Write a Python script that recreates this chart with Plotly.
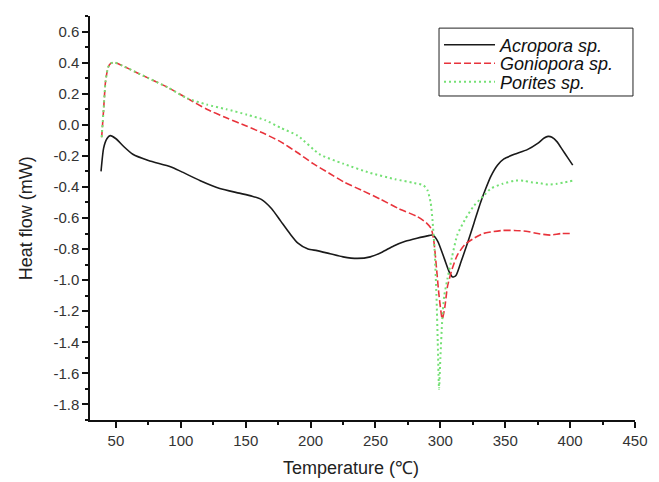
import plotly.graph_objects as go

# ---- data ----
acro_x = [38.5, 40.5, 43, 45.5, 50, 56, 63, 75, 92, 100, 115, 130, 145, 155, 162, 170, 177, 184, 190, 198,
          205, 215, 225, 236, 246, 255, 264, 273, 282, 290, 294, 298, 303, 307, 309.5, 312, 316, 321, 326,
          331, 335, 339, 344, 349, 357, 367, 375, 380, 383, 386, 390, 394, 398, 402]
acro_y = [-0.30, -0.15, -0.09, -0.07, -0.09, -0.14, -0.19, -0.23, -0.27, -0.30, -0.36, -0.41, -0.44, -0.46,
          -0.48, -0.54, -0.62, -0.70, -0.76, -0.80, -0.81, -0.83, -0.85, -0.86, -0.85, -0.82, -0.78, -0.75,
          -0.73, -0.715, -0.71, -0.75, -0.86, -0.95, -0.98, -0.97, -0.88, -0.76, -0.63, -0.50, -0.41, -0.33,
          -0.26, -0.22, -0.19, -0.16, -0.12, -0.085, -0.075, -0.08, -0.11, -0.16, -0.21, -0.26]

gonio_x = [39, 40.5, 42, 44, 46, 49, 55, 65, 75, 90, 105, 120, 135, 151, 165, 177, 190, 202, 214, 226, 239,
           254, 268, 282, 289, 293, 295, 297, 299, 301.5, 303.5, 305.5, 309, 313, 319, 326, 333, 339, 348,
           357, 366, 375, 385, 393, 402]
gonio_y = [-0.08, 0.10, 0.28, 0.37, 0.395, 0.40, 0.38, 0.34, 0.30, 0.24, 0.17, 0.10, 0.045, -0.01, -0.06,
           -0.11, -0.18, -0.25, -0.31, -0.37, -0.42, -0.48, -0.54, -0.59, -0.63, -0.67, -0.75, -0.92, -1.10,
           -1.25, -1.17, -1.04, -0.93, -0.84, -0.77, -0.73, -0.70, -0.69, -0.68, -0.68, -0.685, -0.70, -0.71,
           -0.70, -0.70]

por_x = [39, 40.5, 42, 44, 46, 49, 55, 65, 75, 90, 105, 120, 135, 151, 165, 177, 190, 207, 225, 246, 265,
         280, 287, 290, 292.5, 294, 295.5, 297, 298, 299, 300, 301.5, 303, 305.5, 309, 313, 319, 326, 333,
         339, 348, 357, 364, 370, 376, 383, 390, 396, 402]
por_y = [-0.08, 0.10, 0.28, 0.37, 0.395, 0.40, 0.38, 0.34, 0.30, 0.24, 0.17, 0.13, 0.10, 0.065, 0.03,
         -0.02, -0.07, -0.19, -0.25, -0.31, -0.35, -0.375, -0.39, -0.42, -0.50, -0.62, -0.80, -1.10, -1.40,
         -1.70, -1.50, -1.25, -1.10, -0.99, -0.85, -0.71, -0.61, -0.52, -0.46, -0.41, -0.38, -0.36, -0.36,
         -0.37, -0.375, -0.385, -0.38, -0.37, -0.36]

series_names = ["Acropora sp.", "Goniopora sp.", "Porites sp."]

x_ticks = [50, 100, 150, 200, 250, 300, 350, 400, 450]
y_ticks = [0.6, 0.4, 0.2, 0.0, -0.2, -0.4, -0.6, -0.8, -1.0, -1.2, -1.4, -1.6, -1.8]
y_ticktext = ["%.1f" % v for v in y_ticks]

x_title = "Temperature (℃)"
y_title = "Heat flow (mW)"

FONT = "Liberation Sans, Arial, sans-serif"

fig = go.Figure()
fig.add_trace(go.Scatter(x=acro_x, y=acro_y, mode="lines", name=series_names[0], legend="legend",
                         line=dict(color="#1a1a1a", width=1.6, shape="spline", smoothing=0.6)))
fig.add_trace(go.Scatter(x=gonio_x, y=gonio_y, mode="lines", name=series_names[1], legend="legend2",
                         line=dict(color="#e8333b", width=1.6, dash="7px,3px", shape="spline", smoothing=0.6)))
fig.add_trace(go.Scatter(x=por_x, y=por_y, mode="lines", name=series_names[2], legend="legend3",
                         line=dict(color="#74e074", width=2, dash="2px,3px", shape="spline", smoothing=0.6)))

axis_common = dict(showgrid=False, zeroline=False, showline=True, linecolor="#111", linewidth=1.5,
                   ticks="outside", ticklen=6, tickwidth=1.5, tickcolor="#111", automargin=False,
                   tickfont=dict(family=FONT, size=15, color="#333"), mirror=False)

fig.update_xaxes(range=[30, 450], tickvals=x_ticks,
                 minor=dict(ticks="outside", ticklen=3.5, tickwidth=1.5, tickcolor="#111", dtick=25, tick0=0),
                 **axis_common)
fig.update_yaxes(range=[-1.9, 0.7], tickvals=y_ticks, ticktext=y_ticktext,
                 minor=dict(ticks="outside", ticklen=3.5, tickwidth=1.5, tickcolor="#111", dtick=0.1, tick0=0),
                 **axis_common)

fig.add_annotation(text=x_title, xref="paper", yref="paper", x=0.479, y=-0.119,
                   xanchor="center", yanchor="middle", showarrow=False,
                   font=dict(family=FONT, size=18, color="#222"))
fig.add_annotation(text=y_title, xref="paper", yref="paper", x=-0.117, y=0.5,
                   xanchor="center", yanchor="middle", showarrow=False, textangle=-90,
                   font=dict(family=FONT, size=18, color="#222"))

# legend frame around the three stacked legend entries
fig.add_shape(type="rect", xref="paper", yref="paper", x0=0.6404, x1=0.9963, y0=0.802, y1=0.970,
              line=dict(color="#222", width=1), fillcolor="rgba(0,0,0,0)", layer="above")

leg_common = dict(xanchor="left", yanchor="middle", bgcolor="rgba(0,0,0,0)", borderwidth=0,
                  font=dict(family=FONT, size=18, color="#111", style="italic"),
                  itemwidth=51, tracegroupgap=0)

fig.update_layout(
    width=651, height=474,
    margin=dict(l=82, r=24, t=8, b=62),
    paper_bgcolor="white", plot_bgcolor="white",
    font=dict(family=FONT),
    legend=dict(x=0.6404, y=0.928, **leg_common),
    legend2=dict(x=0.6404, y=0.8824, **leg_common),
    legend3=dict(x=0.6404, y=0.8366, **leg_common),
    showlegend=True,
)

fig.write_html("out.html")
